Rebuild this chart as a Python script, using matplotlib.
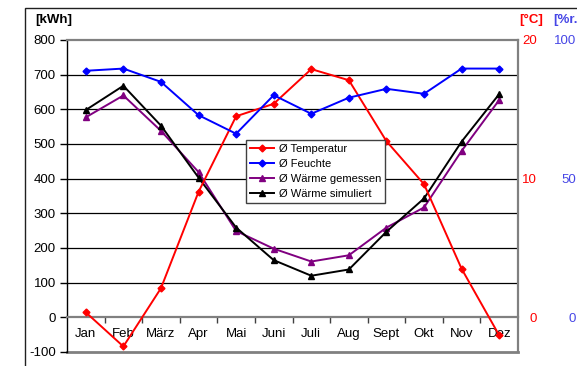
import matplotlib
matplotlib.use("Agg")
import matplotlib.pyplot as plt
from matplotlib.patches import Rectangle

plt.rcParams['font.family'] = ['Liberation Sans', 'DejaVu Sans']
plt.rcParams['axes.unicode_minus'] = False

months = ["Jan", "Feb", "März", "Apr", "Mai", "Juni", "Juli", "Aug", "Sept", "Okt", "Nov", "Dez"]
temperatur = [0.36, -2.1, 2.1, 9.05, 14.5, 15.4, 17.9, 17.1, 12.7, 9.6, 3.5, -1.3]
feuchte = [88.9, 89.7, 84.9, 72.9, 66.2, 80.1, 73.4, 79.2, 82.4, 80.6, 89.7, 89.7]
waerme_gemessen = [577, 640, 538, 419, 249, 198, 161, 179, 259, 317, 480, 627]
waerme_simuliert = [598, 668, 553, 403, 259, 165, 120, 138, 247, 343, 507, 644]

kwh_ticks = list(range(-100, 801, 100))
temp_ticks = [0, 10, 20]
hum_ticks = [0, 50, 100]

W, H = 577, 366
fig = plt.figure(figsize=(W / 100, H / 100), dpi=100)
L, R, T, B = 67, 518, 40, 352
ax = fig.add_axes([L / W, 1 - B / H, (R - L) / W, (B - T) / H])
ax2 = ax.twinx()
ax3 = ax.twinx()

x = list(range(len(months)))
ax.set_xlim(-0.5, len(months) - 0.5)
ax.set_ylim(-100, 800)
ax2.set_ylim(-2.5, 20)
ax3.set_ylim(-12.5, 100)

# grid
for v in kwh_ticks:
    if v not in (-100, 0, 800):
        ax.axhline(v, color='black', lw=0.9, zorder=0)
ax.axhline(-100, color='#808080', lw=2.0, zorder=1, clip_on=False)

red = '#FF0000'
blue = '#0000FF'
purple = '#800080'
lt, = ax2.plot(x, temperatur, color=red, marker='D', ms=3.5, lw=1.4, label='Ø Temperatur')
lh, = ax3.plot(x, feuchte, color=blue, marker='D', ms=3.5, lw=1.4, label='Ø Feuchte')
lg, = ax.plot(x, waerme_gemessen, color=purple, marker='^', ms=4.5, lw=1.4, label='Ø Wärme gemessen', zorder=3)
ls, = ax.plot(x, waerme_simuliert, color='black', marker='^', ms=4.5, lw=1.4, label='Ø Wärme simuliert', zorder=4)

# left axis
ax.set_yticks(kwh_ticks)
ax.tick_params(axis='y', direction='out', length=5, width=1, color='black', labelsize=9.5, pad=3)
ax.spines['left'].set_color('black')
ax.spines['left'].set_linewidth(1.0)
for s in ('top', 'right'):
    ax.spines[s].set_color('#808080')
    ax.spines[s].set_linewidth(1.6)
ax.spines['bottom'].set_position(('data', 0))
ax.spines['bottom'].set_color('#808080')
ax.spines['bottom'].set_linewidth(1.6)

# x axis: ticks at category boundaries, labels centered
ax.set_xticks([i + 0.5 for i in x[:-1]], minor=True)
ax.set_xticks(x)
ax.set_xticklabels(months)
ax.tick_params(axis='x', which='major', length=0, labelsize=9.5, pad=8)
ax.tick_params(axis='x', which='minor', length=4, width=1, color='#404040', direction='out')

# right axes
for a, ticks, col, pad in ((ax2, temp_ticks, red, 13.5), (ax3, hum_ticks, '#4646e6', 42)):
    a.set_yticks(ticks)
    a.tick_params(axis='y', length=0, labelsize=9.5, pad=pad, labelcolor=col)
    for lab in a.get_yticklabels():
        lab.set_horizontalalignment('right')
    for s in a.spines.values():
        s.set_visible(False)

# headers
fig.text(35 / W, 1 - 20 / H, '[kWh]', fontsize=9.5, fontweight='bold', ha='left', va='center')
fig.text(519 / W, 1 - 20 / H, '[°C]', fontsize=9.5, fontweight='bold', ha='left', va='center', color=red)
fig.text(553 / W, 1 - 20 / H, '[%r.F.]', fontsize=9.5, fontweight='bold', ha='left', va='center', color='#4646e6')

# legend
leg = ax3.legend(handles=[lt, lh, lg, ls], loc='upper left',
                 bbox_to_anchor=((246 - L) / (R - L), (B - 140) / (B - T)),
                 borderaxespad=0, fontsize=8, frameon=True, fancybox=False,
                 handlelength=2.2, handletextpad=0.4, labelspacing=0.45,
                 borderpad=0.35, framealpha=1)
leg.get_frame().set_edgecolor('#404040')
leg.get_frame().set_linewidth(1.0)

# outer chart border
fig.patches.append(Rectangle((25 / W, -0.1), 1.2, 1 - 8 / H + 0.1, transform=fig.transFigure,
                             fill=False, edgecolor='#202020', lw=1.0))

fig.savefig('out.png', dpi=100)
